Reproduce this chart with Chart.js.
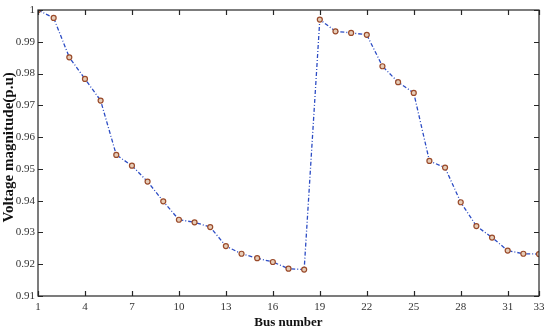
<!DOCTYPE html>
<html>
<head>
<meta charset="utf-8">
<script src="https://cdn.jsdelivr.net/npm/chart.js@4.4.1/dist/chart.umd.min.js"></script>
<style>
  html, body { margin: 0; padding: 0; background: #ffffff; }
  #wrap { width: 550px; height: 332px; position: relative; }
</style>
</head>
<body>
<div id="wrap"><canvas id="c" width="550" height="332"></canvas></div>
<script>
const busNumbers = [1,2,3,4,5,6,7,8,9,10,11,12,13,14,15,16,17,18,19,20,21,22,23,24,25,26,27,28,29,30,31,32,33];
const voltage = [1.0000, 0.9975, 0.9851, 0.9783, 0.9715, 0.9544, 0.9510, 0.9460, 0.9398, 0.9340,
                 0.9332, 0.9317, 0.9257, 0.9233, 0.9219, 0.9207, 0.9186, 0.9183, 0.9970, 0.9933,
                 0.9928, 0.9922, 0.9823, 0.9773, 0.9739, 0.9525, 0.9504, 0.9395, 0.9320, 0.9284,
                 0.9243, 0.9233, 0.9232];
const xTickValues = [1,4,7,10,13,16,19,22,25,28,31,33];
const yTickValues = [0.91,0.92,0.93,0.94,0.95,0.96,0.97,0.98,0.99,1.00];

const axisColor = '#262626';
const boxPlugin = {
  id: 'boxTicks',
  afterDraw(chart) {
    const ctx = chart.ctx;
    const a = chart.chartArea;
    const xs = chart.scales.x, ys = chart.scales.y;
    ctx.save();
    ctx.strokeStyle = axisColor;
    ctx.lineWidth = 1.2;
    ctx.strokeRect(a.left, a.top, a.right - a.left, a.bottom - a.top);
    const tl = 5;
    ctx.beginPath();
    xTickValues.forEach(v => {
      const px = Math.round(xs.getPixelForValue(v)) + 0.5;
      ctx.moveTo(px, a.bottom); ctx.lineTo(px, a.bottom - tl);
      ctx.moveTo(px, a.top); ctx.lineTo(px, a.top + tl);
    });
    yTickValues.forEach(v => {
      const py = Math.round(ys.getPixelForValue(v)) + 0.5;
      ctx.moveTo(a.left, py); ctx.lineTo(a.left + tl, py);
      ctx.moveTo(a.right, py); ctx.lineTo(a.right - tl, py);
    });
    ctx.stroke();
    ctx.restore();
  }
};

new Chart(document.getElementById('c'), {
  type: 'line',
  data: {
    datasets: [{
      data: busNumbers.map((b, i) => ({x: b, y: voltage[i]})),
      borderColor: '#2c4cc4',
      borderWidth: 1.3,
      borderDash: [4, 2, 1, 2],
      pointRadius: 2.5,
      pointBorderWidth: 1.2,
      pointBorderColor: '#9a4a2a',
      pointBackgroundColor: '#e6cdb8',
      tension: 0,
      fill: false
    }]
  },
  options: {
    responsive: false,
    animation: false,
    events: [],
    layout: { padding: { top: 10, right: 11, left: 0, bottom: 0 } },
    plugins: { legend: { display: false }, tooltip: { enabled: false } },
    scales: {
      x: {
        type: 'linear',
        min: 1, max: 33,
        afterBuildTicks(scale) { scale.ticks = xTickValues.map(v => ({value: v})); },
        afterFit(scale) { scale.height = 36; },
        grid: { display: false, drawTicks: false },
        border: { display: false },
        ticks: {
          padding: 5,
          color: '#333333',
          font: { family: '"Liberation Serif", "Times New Roman", serif', size: 11 },
          maxRotation: 0,
          autoSkip: false,
          callback: v => String(v)
        },
        title: {
          display: true,
          text: 'Bus number',
          color: '#111111',
          font: { family: '"Liberation Serif", "Times New Roman", serif', size: 13, weight: 'bold' },
          padding: { top: 0, bottom: 2 }
        }
      },
      y: {
        min: 0.91, max: 1.0,
        afterBuildTicks(scale) { scale.ticks = yTickValues.map(v => ({value: v})); },
        afterFit(scale) { scale.width = 38; },
        grid: { display: false, drawTicks: false },
        border: { display: false },
        ticks: {
          padding: 3,
          color: '#333333',
          font: { family: '"Liberation Serif", "Times New Roman", serif', size: 11 },
          autoSkip: false,
          callback: v => (Math.abs(v - 1) < 1e-9 ? '1' : v.toFixed(2))
        },
        title: {
          display: true,
          text: '   Voltage magnitude(p.u)',
          color: '#111111',
          font: { family: '"Liberation Serif", "Times New Roman", serif', size: 15, weight: 'bold' },
          padding: { top: 0, bottom: 0 }
        }
      }
    }
  },
  plugins: [boxPlugin]
});
</script>
</body>
</html>
